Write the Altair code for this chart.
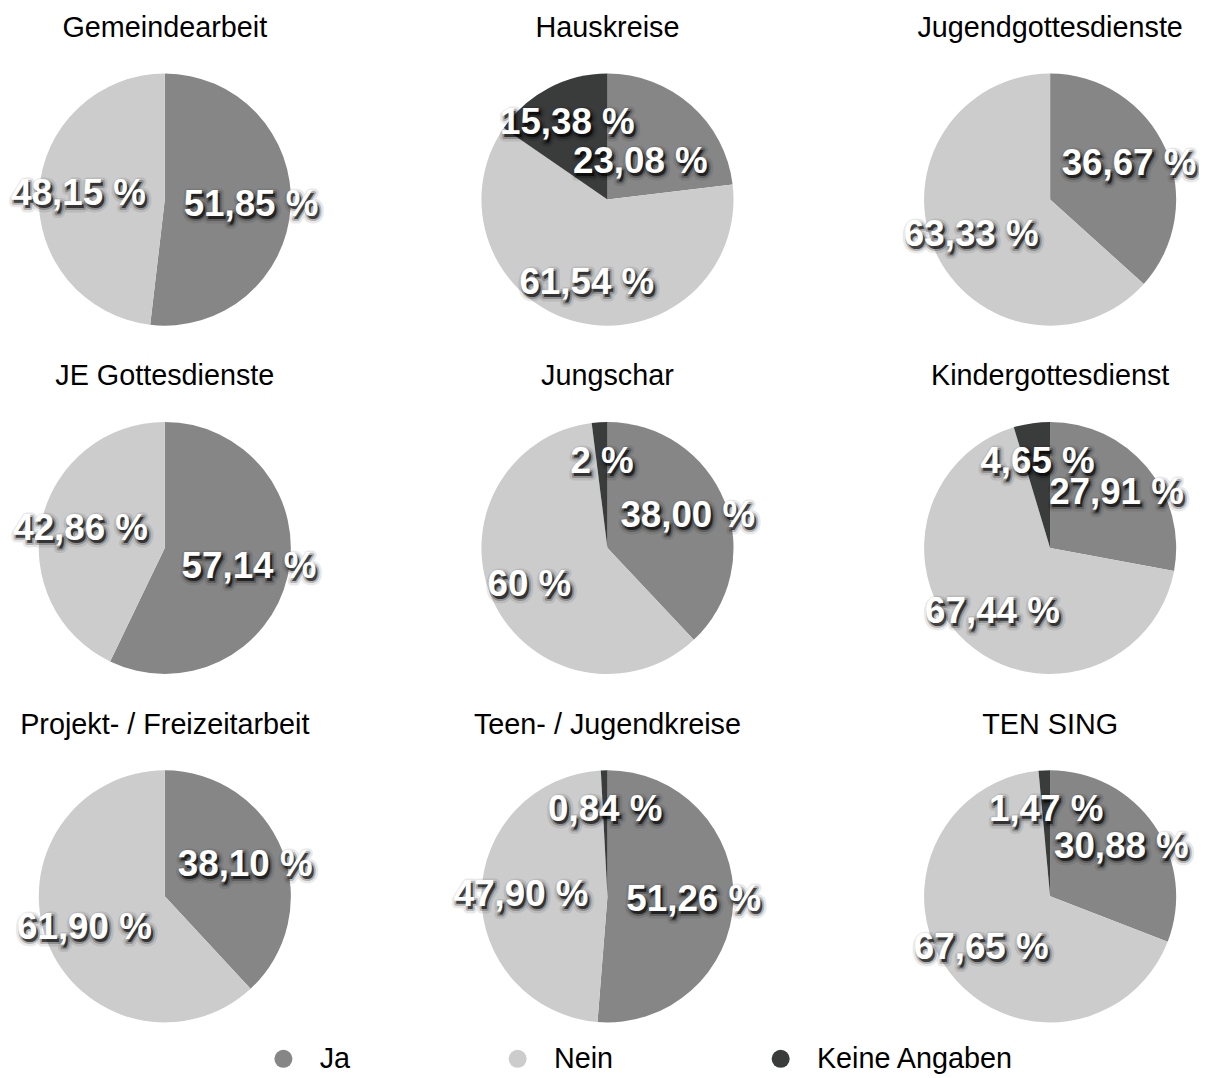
import altair as alt
import pandas as pd

charts = ["Gemeindearbeit", "Hauskreise", "Jugendgottesdienste",
          "JE Gottesdienste", "Jungschar", "Kindergottesdienst",
          "Projekt- / Freizeitarbeit", "Teen- / Jugendkreise", "TEN SING"]
categories = ["Ja", "Nein", "Keine Angaben"]
colors = ["#858685", "#cbcccb", "#3a3b3b"]

ja = [51.85, 23.08, 36.67, 57.14, 38.00, 27.91, 38.10, 51.26, 30.88]
nein = [48.15, 61.54, 63.33, 42.86, 60.0, 67.44, 61.90, 47.90, 67.65]
keine = [0.0, 15.38, 0.0, 0.0, 2.0, 4.65, 0.0, 0.84, 1.47]

ja_labels = ["51,85 %", "23,08 %", "36,67 %", "57,14 %", "38,00 %", "27,91 %", "38,10 %", "51,26 %", "30,88 %"]
nein_labels = ["48,15 %", "61,54 %", "63,33 %", "42,86 %", "60 %", "67,44 %", "61,90 %", "47,90 %", "67,65 %"]
keine_labels = ["", "15,38 %", "", "", "2 %", "4,65 %", "", "0,84 %", "1,47 %"]

rows = []
for i, c in enumerate(charts):
    for k, (vals, labs) in enumerate([(ja, ja_labels), (nein, nein_labels), (keine, keine_labels)]):
        if vals[i] > 0:
            lr = 50 if (c == "Hauskreise" and k == 0) else 87
            rows.append({"chart": c, "cat": categories[k], "order": k,
                         "value": vals[i], "label": labs[i], "lr": lr})
df = pd.DataFrame(rows)

W, H = 300, 280
FONT = "Liberation Sans"

color = alt.Color("cat:N", scale=alt.Scale(domain=categories, range=colors),
                  legend=alt.Legend(title=None, orient="none", legendX=255, legendY=991,
                                    direction="horizontal", symbolType="circle",
                                    symbolSize=330, symbolStrokeWidth=0,
                                    labelFontSize=29, labelFont=FONT, labelColor="black",
                                    labelLimit=400, labelOffset=22, columnPadding=154))

tscale = alt.Scale(domain=[0, 100])

base = alt.Chart(df).transform_stack(
    stack="value", groupby=["chart"], sort=[alt.SortField("order")], as_=["v0", "v1"]
).transform_calculate(mid="(datum.v0 + datum.v1) / 2")

arcs = base.mark_arc(radius=127, stroke=None).encode(
    theta=alt.Theta("v0:Q", scale=tscale, stack=False), theta2="v1:Q", color=color)

def text_layer(**kw):
    return base.mark_text(
        font=FONT, fontWeight="bold", fontSize=37, align="center", baseline="middle", **kw
    ).encode(theta=alt.Theta("mid:Q", scale=tscale, stack=False),
             radius=alt.Radius("lr:Q", scale=None), text="label:N")

shadow1 = text_layer(fill="black", opacity=0.35, stroke="black", strokeWidth=9,
                     strokeOpacity=0.25, strokeJoin="round", dx=2, dy=3)
shadow2 = text_layer(fill="black", opacity=0.6, stroke="black", strokeWidth=4,
                     strokeOpacity=0.4, strokeJoin="round", dx=2, dy=3)
labels = text_layer(fill="white")

chart = alt.layer(arcs, shadow1, shadow2, labels).properties(width=W, height=H).facet(
    facet=alt.Facet("chart:N", sort=charts,
                    header=alt.Header(title=None, labelFontSize=29, labelFont=FONT,
                                      labelColor="black", labelPadding=18,
                                      labelBaseline="top")),
    columns=3, spacing={"row": 71, "column": 146}, bounds="flush"
).configure_view(stroke=None).configure(padding={"left": 3, "top": 2, "right": 0, "bottom": 0})

chart.save("out.html", embed_options={"renderer": "svg", "actions": False})
